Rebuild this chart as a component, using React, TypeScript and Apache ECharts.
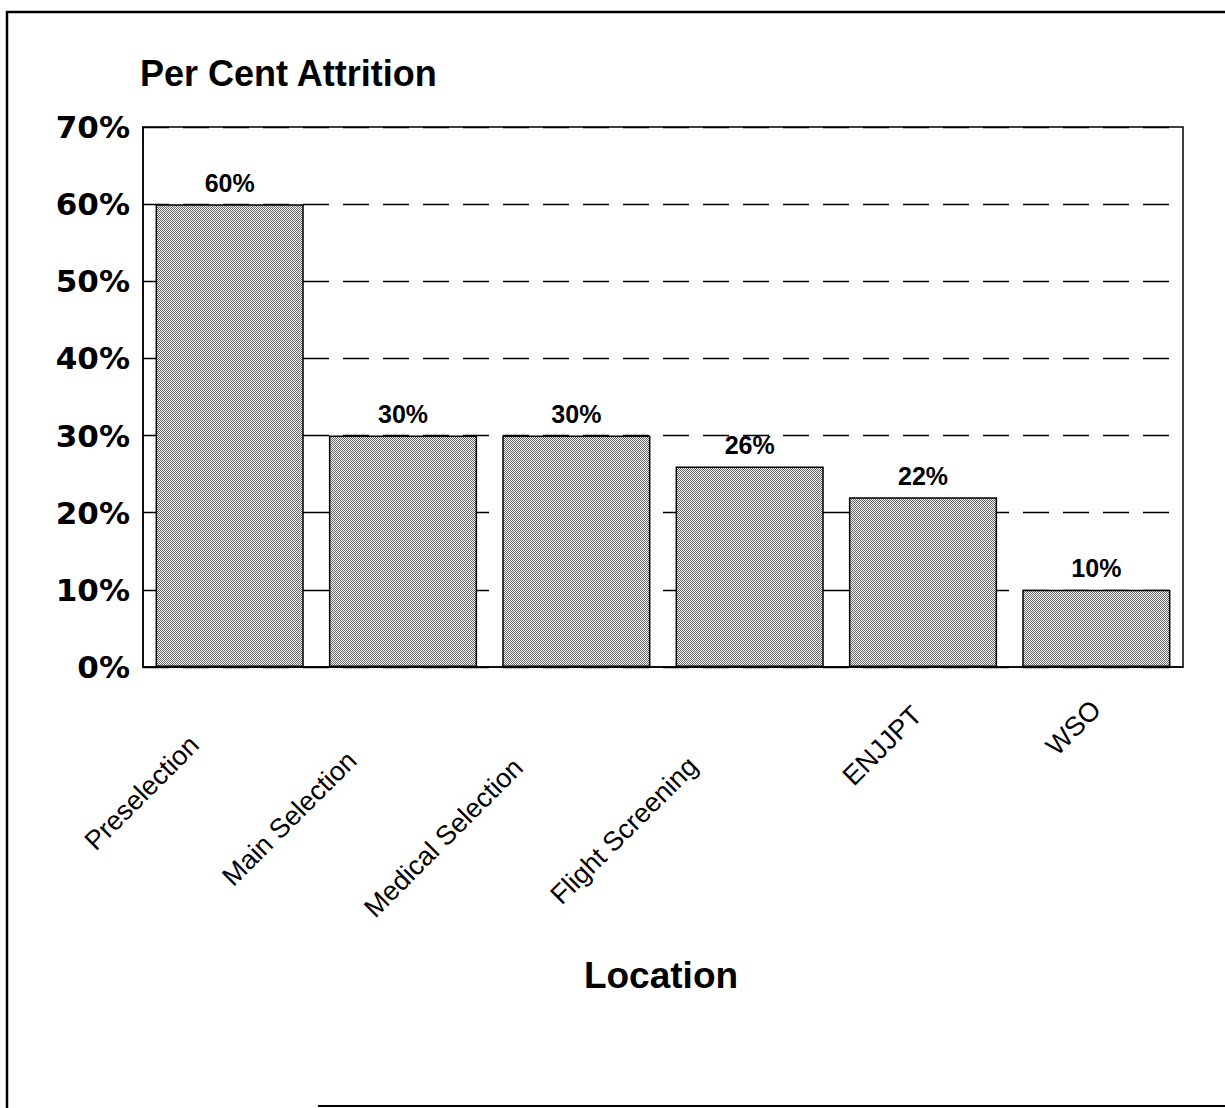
import React, { useEffect, useRef } from "react";
import * as echarts from "echarts";

const categories = ["Preselection", "Main Selection", "Medical Selection", "Flight Screening", "ENJJPT", "WSO"];
const attrition = [60, 30, 30, 26, 22, 10];
const yMin = 0;
const yMax = 70;
const yStep = 10;
const chartTitle = "Per Cent Attrition";
const xTitle = "Location";

// layout only: extra right padding of each rotated category label
const labelPad = [50, 72, 82, 80, 8, 0];

function makePattern(): HTMLCanvasElement {
  const c = document.createElement("canvas");
  c.width = 2;
  c.height = 2;
  const ctx = c.getContext("2d")!;
  ctx.fillStyle = "#f2f2f2";
  ctx.fillRect(0, 0, 2, 2);
  ctx.fillStyle = "#6a6a6a";
  ctx.fillRect(0, 0, 1, 1);
  ctx.fillRect(1, 1, 1, 1);
  return c;
}

export default function App() {
  const ref = useRef<HTMLDivElement>(null);
  useEffect(() => {
    if (!ref.current) return;
    const chart = echarts.init(ref.current, null, { renderer: "svg" });
    const pattern = makePattern();
    chart.setOption({
      animation: false,
      backgroundColor: "#ffffff",
      grid: {
        left: 143,
        top: 127,
        right: 42,
        bottom: 441,
        show: true,
        borderColor: "#000",
        borderWidth: 1.5,
      },
      xAxis: {
        type: "category",
        data: categories.map((c, i) => ({ value: c, textStyle: { padding: [0, labelPad[i], 0, 0] } })),
        axisLine: { lineStyle: { color: "#000", width: 1.5 } },
        axisTick: { show: false },
        axisLabel: {
          rotate: 45,
          margin: 38,
          fontSize: 27,
          fontFamily: "Liberation Sans, Arial, sans-serif",
          color: "#000",
          interval: 0,
        },
      },
      yAxis: {
        type: "value",
        min: yMin,
        max: yMax,
        interval: yStep,
        axisLine: { show: true, lineStyle: { color: "#000", width: 1.5 } },
        axisTick: { show: false },
        axisLabel: {
          formatter: "{value}%",
          fontSize: 31,
          fontWeight: "bold",
          fontFamily: "DejaVu Sans, sans-serif",
          color: "#000",
          margin: 13,
        },
        splitLine: {
          show: true,
          lineStyle: { color: "#000", width: 1.3, type: [26, 14] },
        },
      },
      series: [
        {
          type: "bar",
          data: attrition,
          barCategoryGap: "14.5%",
          itemStyle: {
            color: { image: pattern, repeat: "repeat" },
            borderColor: "#000",
            borderWidth: 1.5,
          },
          label: {
            show: true,
            position: "top",
            distance: 9,
            formatter: "{c}%",
            fontSize: 25,
            fontWeight: "bold",
            fontFamily: "Liberation Sans, Arial, sans-serif",
            color: "#000",
          },
        },
      ],
      graphic: [
        {
          type: "text",
          left: 140,
          top: 55,
          style: {
            text: chartTitle,
            fontSize: 36,
            fontWeight: "bold",
            fontFamily: "Liberation Sans, Arial, sans-serif",
            fill: "#000",
          },
        },
        {
          type: "text",
          x: 661,
          y: 975,
          style: {
            text: xTitle,
            fontSize: 37,
            fontWeight: "bold",
            fontFamily: "Liberation Sans, Arial, sans-serif",
            fill: "#000",
            align: "center",
            verticalAlign: "middle",
          },
        },
        {
          type: "polyline",
          shape: { points: [[1225, 12], [7, 12], [7, 1108]] },
          style: { stroke: "#000", lineWidth: 2.5, fill: null },
        },
        {
          type: "line",
          shape: { x1: 318, y1: 1106, x2: 1225, y2: 1106 },
          style: { stroke: "#000", lineWidth: 2 },
        },
      ],
    });
    return () => chart.dispose();
  }, []);
  return (
    <div
      ref={ref}
      style={{ position: "absolute", left: 0, top: 0, width: 1225, height: 1108 }}
    />
  );
}
